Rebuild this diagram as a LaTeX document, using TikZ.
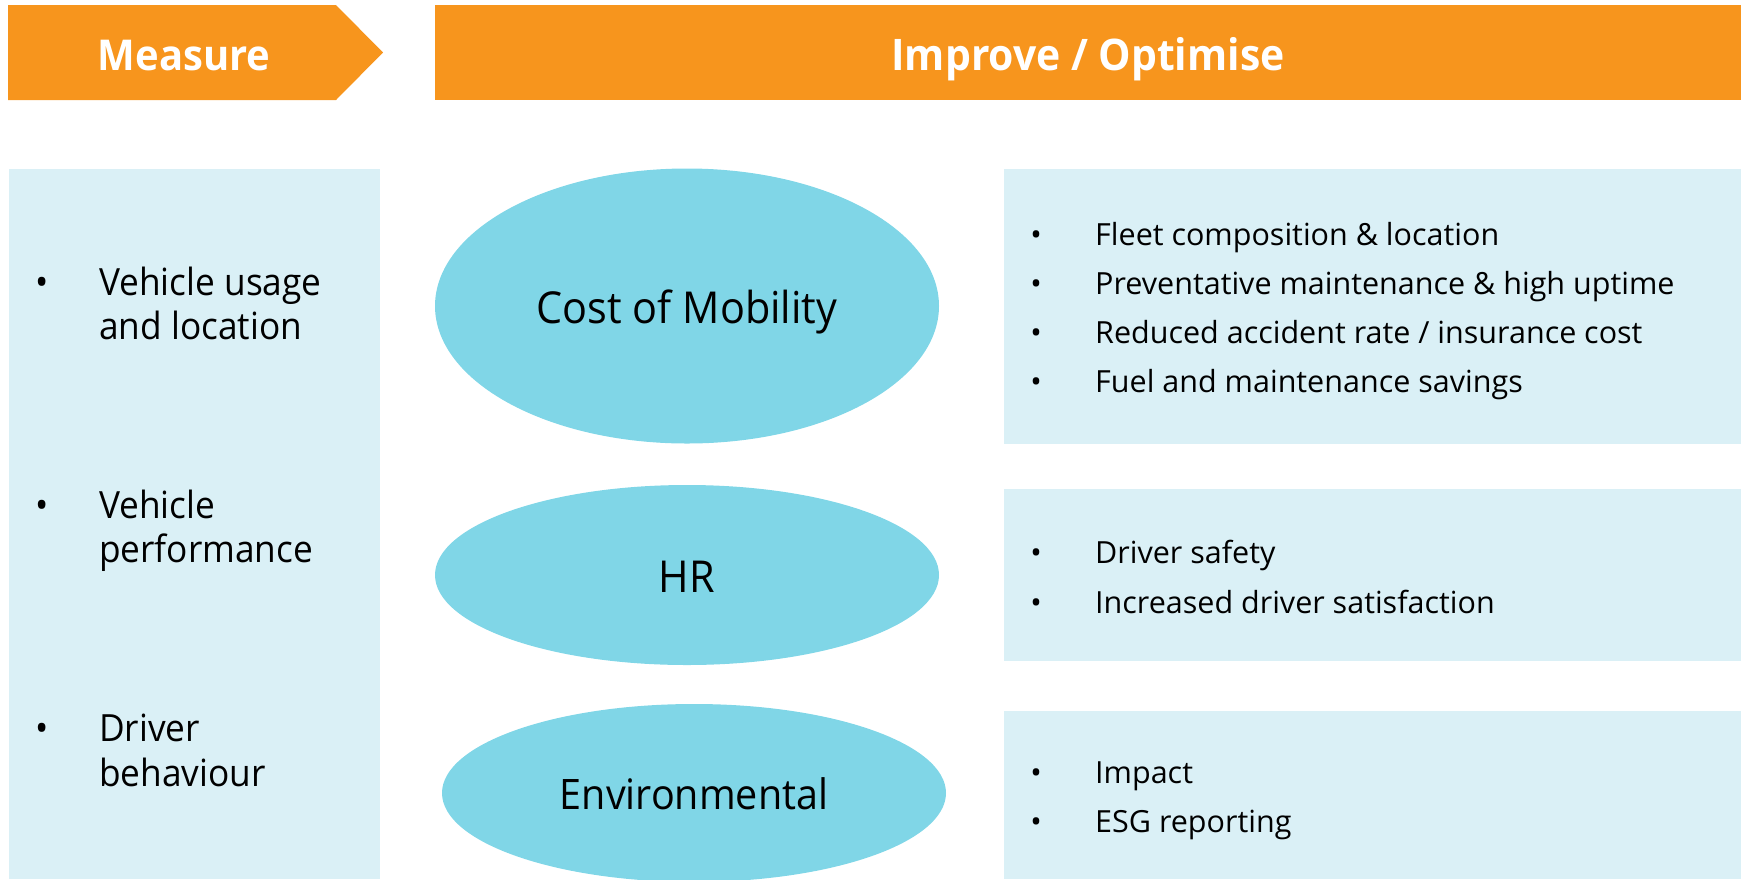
\documentclass[tikz,border=0pt]{standalone}
\usepackage{fontspec}
\setmainfont{Open Sans}[FakeStretch=0.94]
\newfontfamily\listfont{Open Sans}
\usetikzlibrary{shapes.geometric}
\definecolor{hdrorange}{HTML}{F7951D}
\definecolor{boxblue}{HTML}{DAF0F6}
\definecolor{ovalblue}{HTML}{80D6E7}
\tikzset{
  hdrtext/.style={anchor=base, inner sep=0, text=white, font=\fontsize{44}{44}\selectfont\bfseries},
  ovaltext/.style={anchor=base, inner sep=0, font=\fontsize{44}{44}\selectfont},
  ltxt/.style={anchor=base west, inner sep=0, font=\fontsize{37.5}{44}\selectfont},
  lbul/.style={anchor=base, inner sep=0, font=\fontsize{37.5}{44}\selectfont},
  rtxt/.style={anchor=base west, inner sep=0, font=\listfont\fontsize{30.5}{36}\selectfont},
  rbul/.style={anchor=base, inner sep=0, font=\listfont\fontsize{30.5}{36}\selectfont},
}
\begin{document}
\begin{tikzpicture}[x=1pt,y=-1pt]
\useasboundingbox (0,0) rectangle (1743,879);
\clip (0,0) rectangle (1743,879);
% headers
\fill[hdrorange] (8,5) -- (336,5) -- (383,52.5) -- (336,100) -- (8,100) -- cycle;
\node[hdrtext, font=\fontsize{42.5}{44}\selectfont\bfseries] (measure) at (184,70) {Measure};
\fill[hdrorange] (435,5) rectangle (1741,100);
\node[hdrtext, font=\fontsize{43.5}{44}\selectfont\bfseries] (improve) at (1088,70) {Improve / Optimise};
% boxes
\fill[boxblue] (9,169) rectangle (380,879);
\fill[boxblue] (1004,169) rectangle (1741,444);
\fill[boxblue] (1004,489) rectangle (1741,661);
\fill[boxblue] (1004,711) rectangle (1741,879);
% ellipses
\fill[ovalblue] (687,306) ellipse [x radius=252, y radius=137.5];
\fill[ovalblue] (687,575) ellipse [x radius=252, y radius=90];
\fill[ovalblue] (694,793) ellipse [x radius=252, y radius=89];
\node[ovaltext] (cost) at (687,323) {Cost of Mobility};
\node[ovaltext] (hr) at (687,592) {HR};
\node[ovaltext, font=\fontsize{42}{44}\selectfont] (env) at (694,809) {Environmental};
% left list
\node[lbul] (lb1) at (42,295) {\textbullet};
\node[ltxt] (l1a) at (99,295) {Vehicle usage};
\node[ltxt] (l1b) at (99,339) {and location};
\node[lbul] (lb2) at (42,518) {\textbullet};
\node[ltxt] (l2a) at (99,518) {Vehicle};
\node[ltxt] (l2b) at (99,562) {performance};
\node[lbul] (lb3) at (42,741) {\textbullet};
\node[ltxt] (l3a) at (99,741) {Driver};
\node[ltxt] (l3b) at (99,786) {behaviour};
% right list 1
\node[rbul] (rb1) at (1036,245) {\textbullet};
\node[rtxt] (r1) at (1095,245) {Fleet composition \& location};
\node[rbul] (rb2) at (1036,294) {\textbullet};
\node[rtxt] (r2) at (1095,294) {Preventative maintenance \& high uptime};
\node[rbul] (rb3) at (1036,343) {\textbullet};
\node[rtxt] (r3) at (1095,343) {Reduced accident rate / insurance cost};
\node[rbul] (rb4) at (1036,392) {\textbullet};
\node[rtxt] (r4) at (1095,392) {Fuel and maintenance savings};
% right list 2
\node[rbul] (rb5) at (1036,563) {\textbullet};
\node[rtxt] (r5) at (1095,563) {Driver safety};
\node[rbul] (rb6) at (1036,613) {\textbullet};
\node[rtxt] (r6) at (1095,613) {Increased driver satisfaction};
% right list 3
\node[rbul] (rb7) at (1036,783) {\textbullet};
\node[rtxt] (r7) at (1095,783) {Impact};
\node[rbul] (rb8) at (1036,832) {\textbullet};
\node[rtxt] (r8) at (1095,832) {ESG reporting};
\end{tikzpicture}
\end{document}
